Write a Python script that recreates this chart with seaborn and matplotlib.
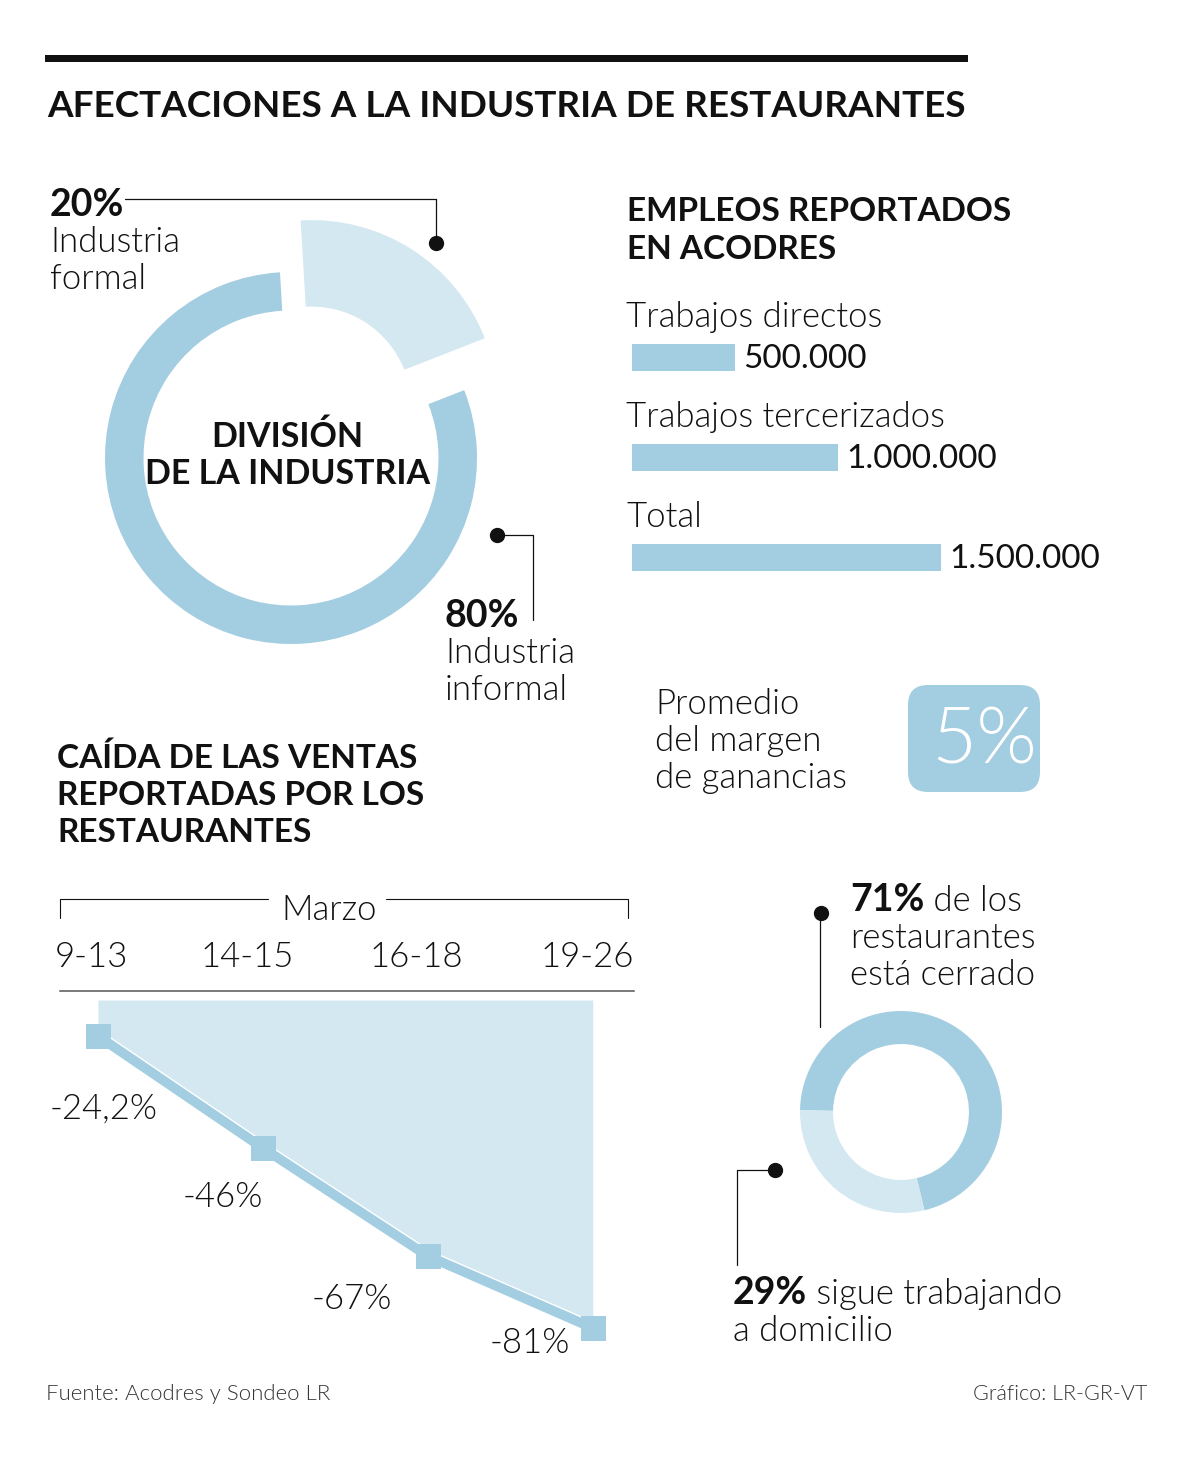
import matplotlib
matplotlib.use("Agg")
import matplotlib.pyplot as plt
from matplotlib.patches import FancyBboxPatch
import numpy as np
import pandas as pd
import seaborn as sns

# ---- datos ----
industria_labels = ["Industria\nformal", "Industria\ninformal"]
industria_pct = [20, 80]

empleo_cats = ["Trabajos directos", "Trabajos tercerizados", "Total"]
empleo_vals = [500000, 1000000, 1500000]

margen_pct = 5

periodos = ["9-13", "14-15", "16-18", "19-26"]
caida_ventas = [-24.2, -46, -67, -81]

restaurantes_pct = [71, 29]
restaurantes_txt = [" de los\nrestaurantes\nestá cerrado", " sigue trabajando\na domicilio"]

AZUL = "#a3cde1"
AZUL_CLARO = "#d4e8f1"
NEGRO = "#111111"

sns.set_theme(style="white")
plt.rcParams["font.family"] = ["Lato", "DejaVu Sans"]

W, H = 1200, 1462
fig = plt.figure(figsize=(W / 100, H / 100), dpi=100)


def px_axes(x0, y0, x1, y1):
    return fig.add_axes([x0 / W, 1 - y1 / H, (x1 - x0) / W, (y1 - y0) / H])


def fmt_miles(v):
    return f"{v:,}".replace(",", ".")


def fmt_pct(v):
    return f"{v:g}".replace(".", ",") + "%"


# lienzo de fondo en pixeles
bg = px_axes(0, 0, W, H)
bg.set_xlim(0, W)
bg.set_ylim(H, 0)
bg.axis("off")

LIGHT = 300
BODY = 25
PCT = 27
HEAD = 24


def lineas(x, y0, texto, size=BODY, weight=LIGHT, paso=37, **kw):
    for i, ln in enumerate(texto.split("\n")):
        bg.text(x, y0 + i * paso, ln, fontsize=size, fontweight=weight,
                va="baseline", color=NEGRO, **kw)


def negrita_y_texto(x, y0, bold, resto, paso=37):
    partes = resto.split("\n")
    t = bg.text(x, y0, bold, fontsize=PCT, fontweight="bold", va="baseline", color=NEGRO)
    bg.annotate(partes[0], xy=(1, 0), xycoords=t, va="bottom", ha="left",
                fontsize=BODY, fontweight=LIGHT, color=NEGRO)
    for i, ln in enumerate(partes[1:], start=1):
        bg.text(x, y0 + i * paso, ln, fontsize=BODY, fontweight=LIGHT,
                va="baseline", color=NEGRO)


# titulo
bg.fill_between([45, 968], 55, 62, color=NEGRO, lw=0)
bg.text(47, 117, "AFECTACIONES A LA INDUSTRIA DE RESTAURANTES", fontsize=26.6,
        fontweight="bold", va="baseline", color=NEGRO)

# ---- dona division de la industria ----
ax1 = px_axes(31, 198, 551, 718)
ax1.pie(industria_pct, colors=["none", AZUL], startangle=93.4, counterclock=False,
        radius=1, wedgeprops=dict(width=0.207, linewidth=0))
# porcion formal desplazada hacia arriba
ax1.pie(industria_pct, colors=[AZUL_CLARO, "none"], startangle=93.4, counterclock=False,
        radius=1, center=(0.111, 0.279), wedgeprops=dict(width=0.465, linewidth=0))
lim = 260 / 186
ax1.set_xlim(-lim, lim)
ax1.set_ylim(-lim, lim)
ax1.set_facecolor("none")

bg.text(287, 447, "DIVISIÓN", fontsize=24.5, fontweight="bold", ha="center",
        va="baseline", color=NEGRO)
bg.text(288, 484, "DE LA INDUSTRIA", fontsize=24.5, fontweight="bold", ha="center",
        va="baseline", color=NEGRO)

lineas(50, 216, f"{industria_pct[0]}%", size=PCT, weight="bold")
lineas(50, 252, industria_labels[0])
bg.plot([125, 436, 436], [199, 199, 243], color=NEGRO, lw=0.9)
bg.plot(436, 243, "o", color=NEGRO, ms=10)

lineas(445, 627, f"{industria_pct[1]}%", size=PCT, weight="bold")
lineas(445, 663, industria_labels[1])
bg.plot([497, 533, 533], [535, 535, 620], color=NEGRO, lw=0.9)
bg.plot(497, 535, "o", color=NEGRO, ms=10)

# ---- barras empleos ----
lineas(627, 221, "EMPLEOS REPORTADOS\nEN ACODRES", size=HEAD, weight="bold", paso=38)

ax2 = px_axes(632, 290, 1160, 590)
df_emp = pd.DataFrame({"cat": empleo_cats, "val": empleo_vals})
sns.barplot(data=df_emp, x="val", y="cat", color=AZUL, saturation=1, width=0.27,
            linewidth=0, ax=ax2)
ax2.set_xlim(0, 528 / 206 * 1e6)
ax2.set_ylim(2.33, -0.67)
ax2.axis("off")
for i, (c, v) in enumerate(zip(empleo_cats, empleo_vals)):
    ax2.annotate(c, (0, i), xytext=(-4, 29), textcoords="offset points",
                 fontsize=BODY, fontweight=LIGHT, va="center", ha="left", color=NEGRO)
    ax2.annotate(fmt_miles(v), (v, i), xytext=(6, -1.5), textcoords="offset points",
                 fontsize=24, va="center", ha="left", color=NEGRO)

# ---- margen ----
lineas(655, 714, "Promedio\ndel margen\nde ganancias")
bg.add_patch(FancyBboxPatch((908, 685), 132, 107,
                            boxstyle="round,pad=0,rounding_size=20",
                            fc=AZUL, ec="none"))
bg.text(984, 742, f"{margen_pct}%", fontsize=56, fontweight=LIGHT, color="white",
        ha="center", va="center")

# ---- caida de ventas ----
lineas(57, 768, "CAÍDA DE LAS VENTAS\nREPORTADAS POR LOS\nRESTAURANTES", size=HEAD,
       weight="bold", paso=37)

bg.plot([60, 60, 268], [918, 899, 899], color=NEGRO, lw=0.8)
bg.plot([386, 628, 628], [899, 899, 918], color=NEGRO, lw=0.8)
bg.text(329, 920, "Marzo", fontsize=BODY, fontweight=LIGHT, ha="center",
        va="baseline", color=NEGRO)

ax3 = px_axes(60, 991, 634, 1345)
x = np.arange(len(periodos))
ax3.fill_between(x, caida_ventas, -17.2, color=AZUL_CLARO, lw=0, zorder=1)
ax3.plot(x, caida_ventas, color="white", lw=9, zorder=1.5, solid_capstyle="butt")
sns.lineplot(x=x, y=caida_ventas, ax=ax3, color=AZUL, lw=7, marker="s",
             markersize=18, markeredgewidth=0, zorder=2)
ax3.set_xlim(-0.23, 3.25)
ax3.set_ylim(-84.3, -15.45)
ax3.set_facecolor("none")
for s in ["left", "right", "bottom"]:
    ax3.spines[s].set_visible(False)
ax3.spines["top"].set_color("#555555")
ax3.spines["top"].set_linewidth(1.1)
ax3.set_xticks([])
ax3.set_yticks([])
ax3.set_xlabel("")
ax3.set_ylabel("")

# etiquetas de periodo sobre la linea superior
for xi, p, dx in zip(x, periodos, [-5, -11, -8, -4]):
    ax3.annotate(p, (xi, 1), xycoords=("data", "axes fraction"), xytext=(dx, 17),
                 textcoords="offset points", fontsize=BODY, fontweight=LIGHT,
                 ha="center", va="baseline", color=NEGRO)

offs = [(4, -52), (-29, -35), (-55, -31), (-45, -11)]
for xi, v, o in zip(x, caida_ventas, offs):
    ax3.annotate(fmt_pct(v), (xi, v), xytext=o, textcoords="offset points",
                 fontsize=BODY, fontweight=LIGHT, ha="center", va="center", color=NEGRO)

# ---- dona restaurantes ----
ax4 = px_axes(781, 992, 1021, 1232)
ax4.pie(restaurantes_pct, colors=[AZUL, AZUL_CLARO], startangle=179, counterclock=False,
        radius=1, wedgeprops=dict(width=0.327, linewidth=0))
lim4 = 120 / 101
ax4.set_xlim(-lim4, lim4)
ax4.set_ylim(-lim4, lim4)
ax4.set_facecolor("none")

negrita_y_texto(850, 911, f"{restaurantes_pct[0]}%", restaurantes_txt[0])
bg.plot([820, 820], [913, 1027], color=NEGRO, lw=0.9)
bg.plot(821, 913, "o", color=NEGRO, ms=10)

negrita_y_texto(733, 1304, f"{restaurantes_pct[1]}%", restaurantes_txt[1])
bg.plot([775, 737, 737], [1170, 1170, 1265], color=NEGRO, lw=0.9)
bg.plot(775, 1170, "o", color=NEGRO, ms=10)

# ---- fuente ----
bg.text(46, 1400, "Fuente: Acodres y Sondeo LR", fontsize=16, fontweight=LIGHT,
        va="baseline", color="#333333")
bg.text(1147, 1400, "Gráfico: LR-GR-VT", fontsize=15.5, fontweight=LIGHT,
        va="baseline", ha="right", color="#333333")

fig.savefig("out.png", dpi=100, facecolor="white")
